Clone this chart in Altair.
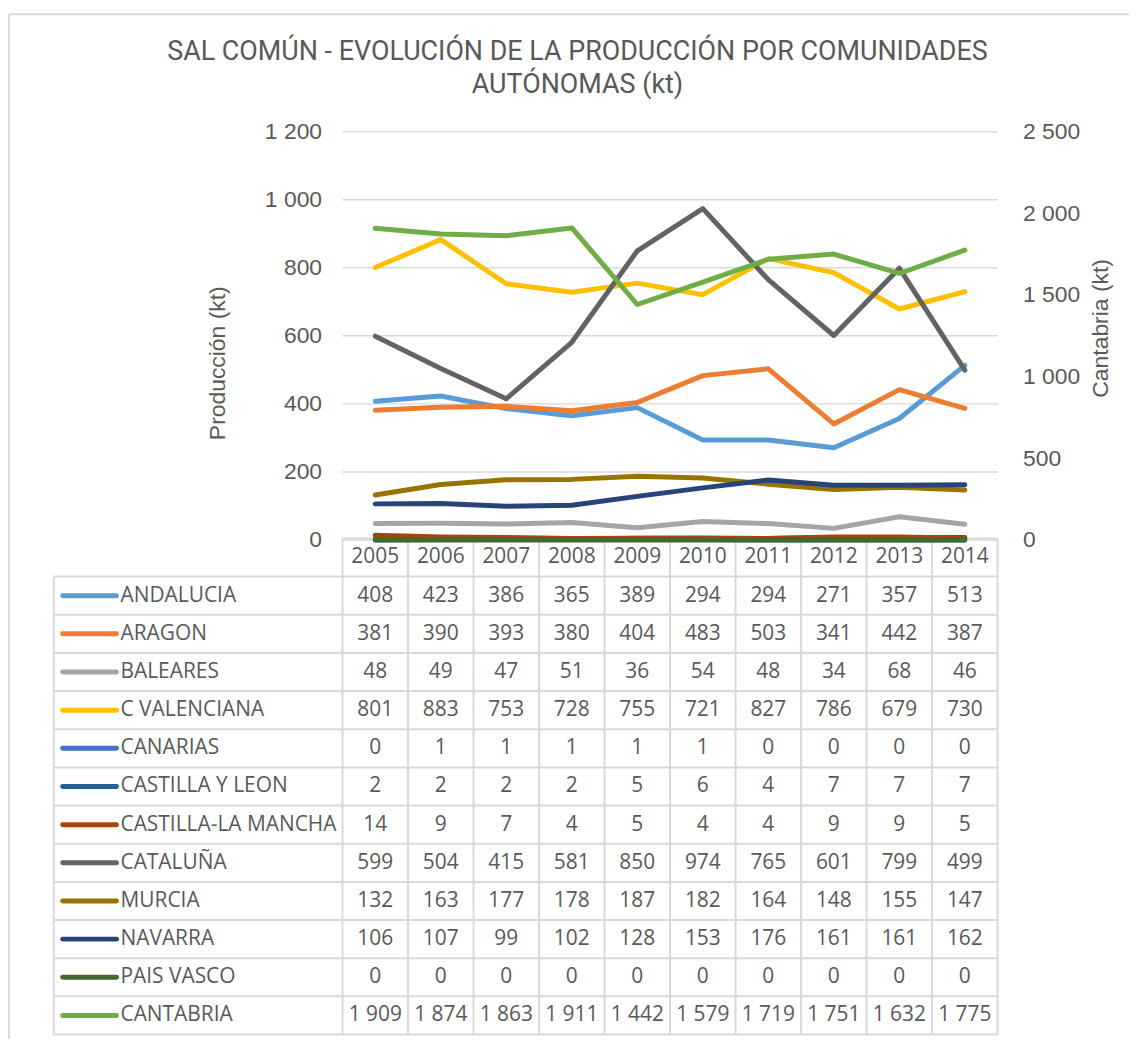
import altair as alt
import pandas as pd

# ---------------- data ----------------
years = [2005, 2006, 2007, 2008, 2009, 2010, 2011, 2012, 2013, 2014]
regions = ["ANDALUCIA", "ARAGON", "BALEARES", "C VALENCIANA", "CANARIAS",
           "CASTILLA Y LEON", "CASTILLA-LA MANCHA", "CATALUÑA", "MURCIA",
           "NAVARRA", "PAIS VASCO", "CANTABRIA"]
andalucia = [408, 423, 386, 365, 389, 294, 294, 271, 357, 513]
aragon = [381, 390, 393, 380, 404, 483, 503, 341, 442, 387]
baleares = [48, 49, 47, 51, 36, 54, 48, 34, 68, 46]
c_valenciana = [801, 883, 753, 728, 755, 721, 827, 786, 679, 730]
canarias = [0, 1, 1, 1, 1, 1, 0, 0, 0, 0]
castilla_leon = [2, 2, 2, 2, 5, 6, 4, 7, 7, 7]
castilla_mancha = [14, 9, 7, 4, 5, 4, 4, 9, 9, 5]
cataluna = [599, 504, 415, 581, 850, 974, 765, 601, 799, 499]
murcia = [132, 163, 177, 178, 187, 182, 164, 148, 155, 147]
navarra = [106, 107, 99, 102, 128, 153, 176, 161, 161, 162]
pais_vasco = [0, 0, 0, 0, 0, 0, 0, 0, 0, 0]
cantabria = [1909, 1874, 1863, 1911, 1442, 1579, 1719, 1751, 1632, 1775]
colors = ["#5B9BD5", "#ED7D31", "#A5A5A5", "#FFC000", "#4472C4", "#255E91",
          "#9E480E", "#636363", "#997300", "#264478", "#43682B", "#70AD47"]
left_ticks = [0, 200, 400, 600, 800, 1000, 1200]
right_ticks = [0, 500, 1000, 1500, 2000, 2500]
title_lines = ["SAL COMÚN - EVOLUCIÓN DE LA PRODUCCIÓN POR COMUNIDADES",
               "AUTÓNOMAS (kt)"]

series = [andalucia, aragon, baleares, c_valenciana, canarias, castilla_leon,
          castilla_mancha, cataluna, murcia, navarra, pais_vasco, cantabria]

# ---------------- layout ----------------
W, H = 948, 907
COL_W = 65.8
LABEL_COL_W = 290
X_MAX = years[-1] + 0.5
X_FIRST = years[0] - 0.5
X_MIN = X_FIRST - LABEL_COL_W / COL_W
LINE_RANGE = [410, 0]
N_ROWS = len(regions) + 1
TABLE_RANGE = [408.5, 906.8]
TXT = "#595959"
GRID = "#d9d9d9"
AX_FONT = "Liberation Sans"
TB_FONT = "Open Sans"

xscale = alt.Scale(domain=[X_MIN, X_MAX], nice=False, zero=False)
color_scale = alt.Scale(domain=regions, range=colors)
row_scale = alt.Scale(domain=[0, N_ROWS], range=TABLE_RANGE, nice=False, zero=False)


def fmt(v):
    return f"{v:,}".replace(",", " ")


recs = []
for i, (name, vals) in enumerate(zip(regions, series)):
    for yr, v in zip(years, vals):
        recs.append({"region": name, "year": yr, "value": v,
                     "row": i + 1.5, "label": fmt(v)})
df = pd.DataFrame(recs)
left_df = df[df.region != "CANTABRIA"]
right_df = df[df.region == "CANTABRIA"]

X = alt.X("year:Q", scale=xscale, axis=None)
ROWY = alt.Y("row:Q", scale=row_scale, axis=None)
COLOR = alt.Color("region:N", scale=color_scale, legend=None)

one = pd.DataFrame({"a": [0]})
frame_left = alt.Chart(one).mark_rule(color=GRID, strokeWidth=2).encode(
    x=alt.value(-45), y=alt.value(-118), y2=alt.value(911))
frame_top = alt.Chart(one).mark_rule(color=GRID, strokeWidth=2).encode(
    x=alt.value(-45), x2=alt.value(1080), y=alt.value(-118))

grid = alt.Chart(pd.DataFrame({"g": left_ticks})).mark_rule(
    color=GRID, strokeWidth=1.5).encode(
    x=alt.X("gx0:Q", scale=xscale, axis=None),
    x2="gx1:Q",
    y=alt.Y("g:Q", scale=alt.Scale(domain=[0, 1200], range=LINE_RANGE, nice=False), axis=None),
).transform_calculate(gx0=str(X_FIRST), gx1=str(X_MAX))

# table grid
h_recs = []
for k in range(N_ROWS + 1):
    h_recs.append({"yy": k, "x0": X_FIRST if k == 0 else X_MIN, "x1": X_MAX})
v_recs = []
for b in [yr - 0.5 for yr in years] + [X_MAX]:
    v_recs.append({"xx": b, "y0": 0, "y1": N_ROWS})
v_recs.append({"xx": X_MIN, "y0": 1, "y1": N_ROWS})

hlines = alt.Chart(pd.DataFrame(h_recs)).mark_rule(color=GRID, strokeWidth=2).encode(
    x=alt.X("x0:Q", scale=xscale, axis=None), x2="x1:Q",
    y=alt.Y("yy:Q", scale=row_scale, axis=None))
vlines = alt.Chart(pd.DataFrame(v_recs)).mark_rule(color=GRID, strokeWidth=2).encode(
    x=alt.X("xx:Q", scale=xscale, axis=None),
    y=alt.Y("y0:Q", scale=row_scale, axis=None), y2="y1:Q")

header_df = pd.DataFrame({"year": years, "row": [0.5] * len(years),
                          "label": [str(y) for y in years]})
header = alt.Chart(header_df).mark_text(font=TB_FONT, fontSize=21, color=TXT,
                                        align="center", baseline="middle").encode(
    x=X, y=ROWY, text="label:N")

values = alt.Chart(df).mark_text(font=TB_FONT, fontSize=21, color=TXT,
                                 align="center", baseline="middle").encode(
    x=X, y=ROWY, text="label:N")

lab_df = pd.DataFrame({"region": regions, "row": [i + 1.5 for i in range(len(regions))]})
lab_df["lx"] = X_MIN + 67 / COL_W
lab_df["sx0"] = X_MIN + 9 / COL_W
lab_df["sx1"] = X_MIN + 63 / COL_W
labels = alt.Chart(lab_df).mark_text(font=TB_FONT, fontSize=21, color=TXT,
                                     align="left", baseline="middle").encode(
    x=alt.X("lx:Q", scale=xscale, axis=None), y=ROWY, text="region:N")
swatches = alt.Chart(lab_df).mark_rule(strokeWidth=5, strokeCap="round").encode(
    x=alt.X("sx0:Q", scale=xscale, axis=None), x2="sx1:Q", y=ROWY, color=COLOR)

left_lines = alt.Chart(left_df).mark_line(strokeWidth=5, strokeCap="round",
                                          strokeJoin="round").encode(
    x=X,
    y=alt.Y("value:Q",
            scale=alt.Scale(domain=[0, 1200], range=LINE_RANGE, nice=False),
            axis=alt.Axis(orient="left", values=left_ticks, offset=-LABEL_COL_W,
                          grid=False, ticks=False, domain=False,
                          labelExpr="replace(format(datum.value, ','), ',', ' ')",
                          labelFont=AX_FONT, labelFontSize=23, labelColor=TXT,
                          labelPadding=21, title="Producción (kt)",
                          titleFont=AX_FONT, titleFontSize=23, titleFontWeight="normal",
                          titleColor=TXT, titleX=-126, titleY=232, titleAngle=270,
                          titleAlign="center", titleBaseline="middle")),
    color=COLOR,
)

right_line = alt.Chart(right_df).mark_line(strokeWidth=5, strokeCap="round",
                                           strokeJoin="round").encode(
    x=X,
    y=alt.Y("value:Q",
            scale=alt.Scale(domain=[0, 2500], range=LINE_RANGE, nice=False),
            axis=alt.Axis(orient="right", values=right_ticks,
                          grid=False, ticks=False, domain=False,
                          labelExpr="replace(format(datum.value, ','), ',', ' ')",
                          labelFont=AX_FONT, labelFontSize=23, labelColor=TXT,
                          labelAlign="left", labelPadding=25, title="Cantabria (kt)",
                          titleFont=AX_FONT, titleFontSize=23, titleFontWeight="normal",
                          titleColor=TXT, titleX=103, titleY=197, titleAngle=270,
                          titleAlign="center", titleBaseline="middle")),
    color=COLOR,
)

chart = alt.layer(
    frame_left, frame_top, grid, hlines, vlines, header, values, labels, swatches,
    left_lines, right_line
).resolve_scale(y="independent").properties(
    width=W, height=H,
    padding={"left": 0, "top": 3, "right": 0, "bottom": 0},
    title=alt.TitleParams(text=title_lines, font="Roboto", fontSize=27,
                          fontWeight="normal", color=TXT, anchor="middle", frame="group",
                          dx=52, offset=-113, baseline="bottom", lineHeight=33),
).configure_view(stroke=None)

chart.save("out.html", embed_options={"renderer": "svg", "actions": False})
